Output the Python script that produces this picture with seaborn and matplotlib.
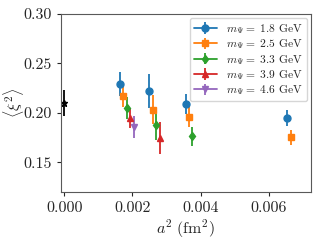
import matplotlib
matplotlib.use("Agg")
import matplotlib.pyplot as plt
import seaborn as sns

# a^2 in fm^2, <xi^2> and errors, one list per charm/bottom mass
masses = ["1.8", "2.5", "3.3", "3.9", "4.6"]
markers = ["o", "s", "d", "^", "v"]
a2 = [
    [0.00163, 0.00250, 0.00356, 0.00654],
    [0.00173, 0.00259, 0.00366, 0.00664],
    [0.00183, 0.00269, 0.00376],
    [0.00193, 0.00280],
    [0.00204],
]
xi2 = [
    [0.2293, 0.2218, 0.2092, 0.1949],
    [0.2170, 0.2031, 0.1956, 0.1752],
    [0.2051, 0.1880, 0.1765],
    [0.1950, 0.1748],
    [0.1854],
]
xi2_err = [
    [0.012, 0.017, 0.010, 0.008],
    [0.011, 0.0145, 0.010, 0.0075],
    [0.011, 0.015, 0.0095],
    [0.010, 0.016],
    [0.011],
]
# continuum value
a2_cont = [0.0]
xi2_cont = [0.2099]
xi2_cont_err = [0.013]

sns.set_theme(style="ticks", palette="tab10")
plt.rcParams["font.family"] = ["cmr10", "DejaVu Serif"]
plt.rcParams["mathtext.fontset"] = "cm"
plt.rcParams["axes.formatter.use_mathtext"] = True

colors = sns.color_palette("tab10")
fig, ax = plt.subplots(figsize=(3.2, 2.4), dpi=100)

for i, m in enumerate(masses):
    for j in range(len(a2[i])):
        ax.errorbar(a2[i][j], xi2[i][j], yerr=xi2_err[i][j], fmt=markers[i], ls="-",
                    color=colors[i], ms=5 if markers[i] != "d" else 4.5, lw=1.3,
                    label=r"$m_\Psi =$ %s GeV" % m if j == 0 else None)

ax.errorbar(a2_cont, xi2_cont, yerr=xi2_cont_err, fmt="*", color="black", ms=5, lw=1.3)

ax.set_xlim(-0.0001, 0.00724)
ax.set_ylim(0.12, 0.30)
ax.set_xticks([0.0, 0.002, 0.004, 0.006])
ax.set_xticklabels(["0.000", "0.002", "0.004", "0.006"])
ax.set_yticks([0.15, 0.20, 0.25, 0.30])
ax.set_yticklabels(["0.15", "0.20", "0.25", "0.30"])
ax.tick_params(labelsize=11.5, length=3, width=0.8)
ax.set_xlabel(r"$a^2\ (\mathrm{fm}^2)$", fontsize=11.5, labelpad=2)
ax.set_ylabel(r"$\langle \xi^2 \rangle$", fontsize=11.5)
ax.yaxis.set_label_coords(-0.14, 0.5)
for s in ax.spines.values():
    s.set_color("0.35")
    s.set_linewidth(0.8)

ax.legend(loc="upper right", fontsize=8.3, handlelength=2.0, labelspacing=0.12,
          borderpad=0.35, handletextpad=0.8, borderaxespad=0.35, framealpha=0.8)

fig.subplots_adjust(left=0.19, right=0.972, top=0.942, bottom=0.2)
fig.savefig("out.png", dpi=100)
